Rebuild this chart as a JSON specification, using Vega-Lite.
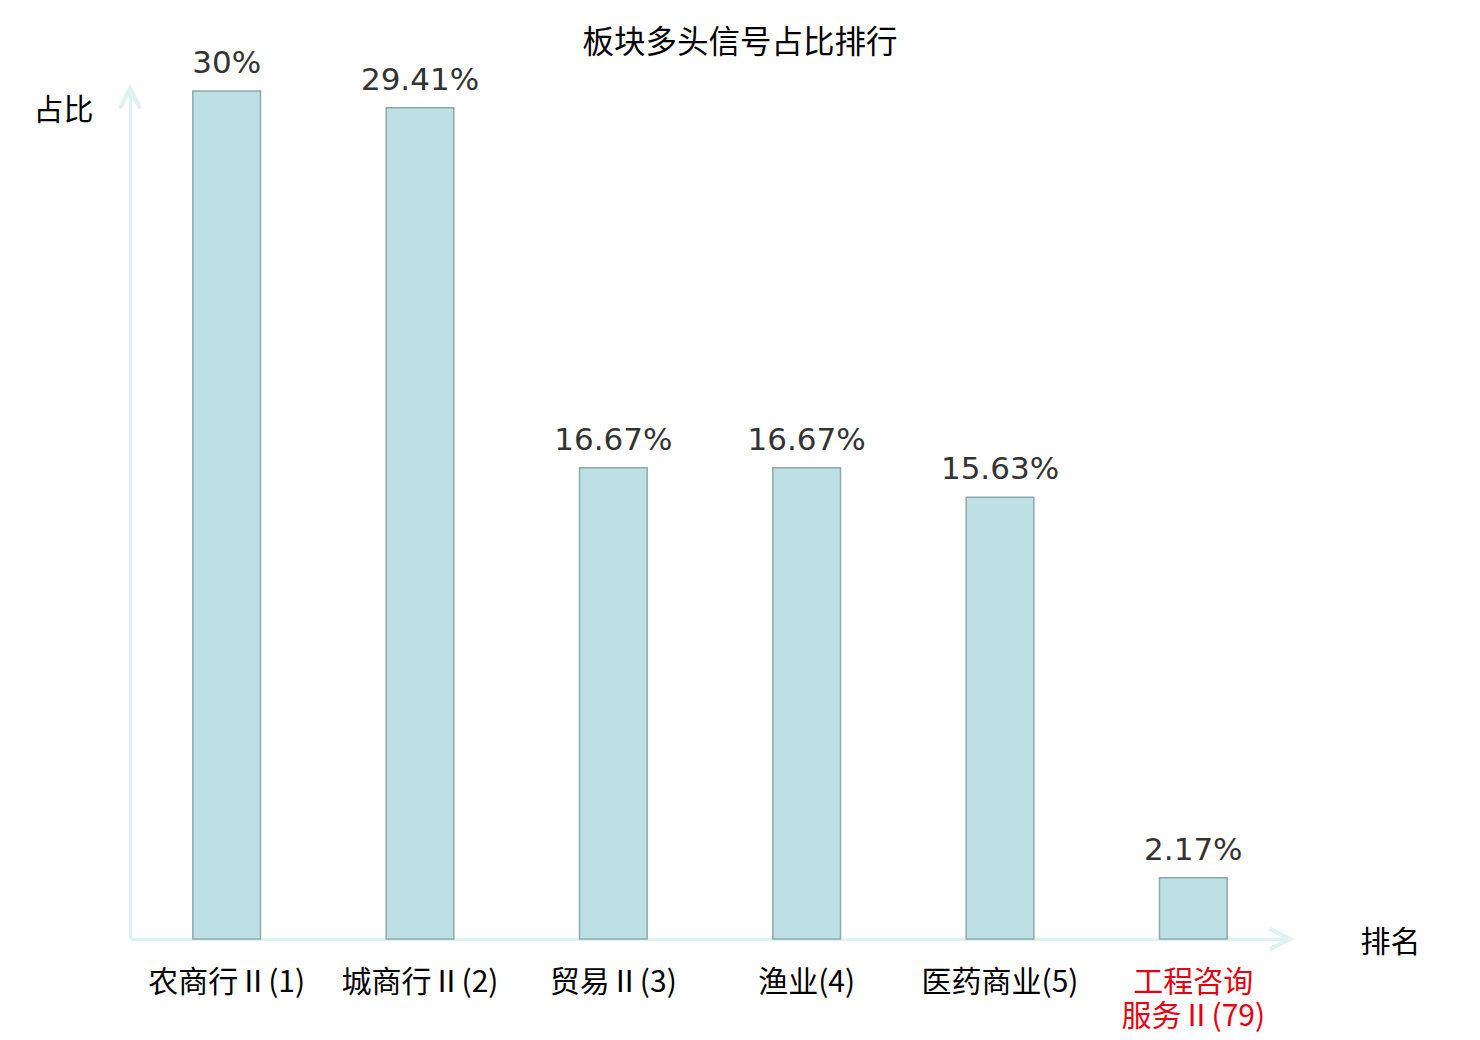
{
  "$schema": "https://vega.github.io/schema/vega-lite/v6.json",
  "autosize": {"type": "none"},
  "width": 1160,
  "height": 848,
  "padding": {"left": 130, "top": 91, "right": 190, "bottom": 101},
  "background": "white",
  "title": {
    "text": "板块多头信号占比排行",
    "font": "Noto Sans CJK SC",
    "fontSize": 31.5,
    "fontWeight": "normal",
    "color": "#000000",
    "anchor": "middle",
    "dx": 30,
    "offset": -11
  },
  "data": {
    "values": [
      {"name": "农商行Ⅱ(1)", "pct": 30, "label": "30%"},
      {"name": "城商行Ⅱ(2)", "pct": 29.41, "label": "29.41%"},
      {"name": "贸易Ⅱ(3)", "pct": 16.67, "label": "16.67%"},
      {"name": "渔业(4)", "pct": 16.67, "label": "16.67%"},
      {"name": "医药商业(5)", "pct": 15.63, "label": "15.63%"},
      {"name": "工程咨询服务Ⅱ(79)", "pct": 2.17, "label": "2.17%"}
    ]
  },
  "encoding": {
    "x": {
      "field": "name",
      "type": "nominal",
      "sort": null,
      "scale": {"paddingInner": 0.65, "paddingOuter": 0.325},
      "axis": {
        "title": "排名",
        "titleFont": "Noto Sans CJK SC",
        "titleFontSize": 30,
        "titleFontWeight": "normal",
        "titleColor": "#000000",
        "titleX": 1260,
        "titleY": 3,
        "titleAlign": "center",
        "titleBaseline": "middle",
        "labelAngle": 0,
        "labelFont": "Noto Sans CJK SC",
        "labelFontSize": 30,
        "labelPadding": 28,
        "labelLineHeight": 34,
        "labelBaseline": "top",
        "labelExpr": "datum.value == '工程咨询服务Ⅱ(79)' ? ['工程咨询', '服务Ⅱ(79)'] : datum.value",
        "labelColor": {"condition": {"test": "datum.value == '工程咨询服务Ⅱ(79)'", "value": "#e60012"}, "value": "#000000"},
        "ticks": false,
        "domainColor": "#dff2ef",
        "domainWidth": 3.5
      }
    }
  },
  "layer": [
    {
      "mark": {"type": "bar", "fill": "#bce0e3", "stroke": "#8fa9aa", "strokeWidth": 1.5},
      "encoding": {
        "y": {
          "field": "pct",
          "type": "quantitative",
          "scale": {"domain": [0, 30], "nice": false, "zero": true},
          "axis": {
            "title": "占比",
            "titleFont": "Noto Sans CJK SC",
            "titleFontSize": 30,
            "titleFontWeight": "normal",
            "titleColor": "#000000",
            "titleAngle": 0,
            "titleX": -67,
            "titleY": 19,
            "titleAlign": "center",
            "titleBaseline": "middle",
            "labels": false,
            "ticks": false,
            "grid": false,
            "domainColor": "#dff2ef",
            "domainWidth": 3.5
          }
        }
      }
    },
    {
      "mark": {"type": "text", "font": "DejaVu Sans", "fontSize": 31, "color": "#333333", "baseline": "alphabetic", "dy": -18},
      "encoding": {
        "y": {"field": "pct", "type": "quantitative"},
        "text": {"field": "label"}
      }
    },
    {
      "mark": {"type": "point", "shape": "M-0.5,1L0,0L0.5,1", "size": 1600, "filled": false, "stroke": "#dff2ef", "strokeWidth": 3.5, "opacity": 1},
      "encoding": {
        "x": {"value": 0},
        "y": {"datum": 30.1, "type": "quantitative"}
      }
    },
    {
      "mark": {"type": "point", "shape": "M-1,-0.5L0,0L-1,0.5", "size": 1600, "filled": false, "stroke": "#dff2ef", "strokeWidth": 3.5, "opacity": 1},
      "encoding": {
        "x": {"value": {"expr": "width"}},
        "y": {"datum": 0, "type": "quantitative"}
      }
    }
  ],
  "config": {
    "view": {"stroke": null}
  }
}
